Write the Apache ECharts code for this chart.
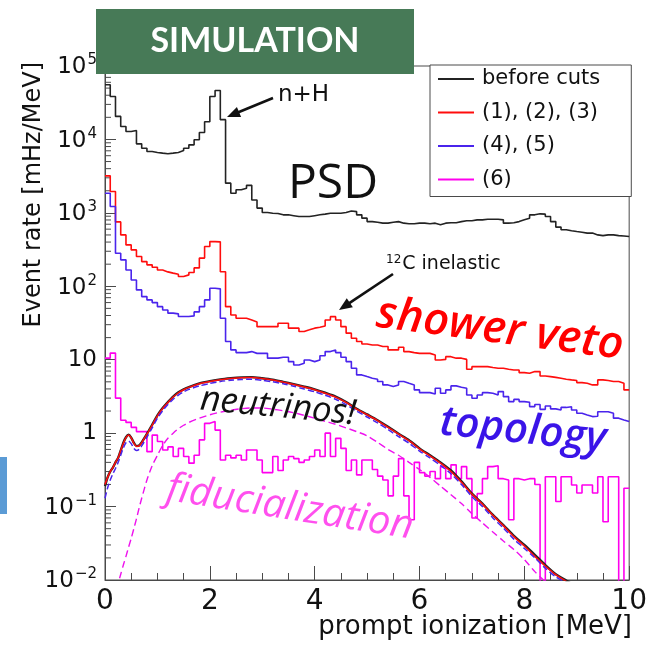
<!DOCTYPE html>
<html>
<head>
<meta charset="utf-8">
<title>Event rate vs prompt ionization</title>
<script src="https://cdn.jsdelivr.net/npm/echarts@6/dist/echarts.min.js"></script>
<style>
  html, body { margin: 0; padding: 0; background: #ffffff; }
  #chart { width: 650px; height: 646px; }
</style>
</head>
<body>
<div id="chart"></div>
<script>
// Histogram binning (MeV)
const binWidth = 0.1;
const energyMin = 0;
const energyMax = 10;
const xTickStep = 2;

// Log axis decades (exponents) and the ROOT-style minor tick factors
const yMinExp = -2;
const yMaxExp = 5;
const yMinorFactors = [2, 3, 4, 5, 6, 7, 8, 9];

const seriesNames = ['before cuts', '(1), (2), (3)', '(4), (5)', '(6)'];

// Event rate per 0.1 MeV bin [mHz/MeV]
const beforeCuts = [
  55500, 38500, 20600, 15000, 12800, 13200, 8700, 7600, 6840, 6640,
  6500, 6370, 6500, 6640, 7060, 7600, 8430, 9900, 12400, 17400,
  38500, 46300, 18600, 2540, 1850, 2060, 2170, 2370, 1500, 1160,
  1010, 990, 980, 940, 940, 915, 890, 890, 890, 915,
  940, 960, 990, 990, 990, 1010, 1060, 1040, 940, 847,
  760, 745, 724, 724, 745, 760, 724, 712, 712, 724,
  724, 712, 724, 690, 724, 735, 735, 760, 780, 780,
  803, 803, 820, 820, 820, 803, 724, 735, 760, 803,
  847, 940, 970, 960, 890, 760, 640, 590, 570, 556,
  545, 530, 530, 501, 490, 501, 501, 490, 485, 476
];

const cuts123 = [
  3190, 1950, 753, 501, 366, 313, 254, 217, 196, 182,
  167, 157, 151, 146, 136, 143, 154, 178, 242, 348,
  406, 403, 158, 52.8, 40.7, 36.7, 36.7, 34.8, 32.7, 28.2,
  28.2, 28.2, 28.2, 31.4, 31.4, 26.9, 26.9, 24.2, 25.5, 26.9,
  27.7, 28.8, 34.8, 38.6, 34.8, 28.2, 23.0, 19.6, 17.7, 16.4,
  15.9, 15.9, 15.1, 15.1, 13.6, 13.6, 14.8, 12.9, 12.5, 12.2,
  12.2, 12.2, 11.6, 9.9, 10.1, 11.0, 10.5, 10.5, 10.1, 7.4,
  8.05, 8.05, 8.05, 7.85, 7.66, 7.66, 7.4, 7.26, 7.26, 6.68,
  6.55, 6.89, 6.89, 6.01, 5.89, 5.75, 5.6, 5.43, 5.31, 5.2,
  4.88, 4.78, 4.54, 4.54, 5.31, 5.2, 5.04, 5.04, 4.78, 3.88
];

const cuts45 = [
  1850, 1220, 282, 229, 167, 122, 89.3, 72.4, 65.3, 60.0,
  52.8, 47.6, 43.1, 42.1, 38.7, 38.7, 39.5, 44.8, 52.8, 65.3,
  94.2, 92.3, 36.7, 17.7, 13.6, 12.5, 12.5, 12.9, 12.2, 12.2,
  12.2, 10.5, 10.5, 10.8, 10.8, 9.42, 8.49, 8.95, 9.93, 9.42,
  9.93, 11.3, 12.9, 13.6, 12.5, 10.8, 9.42, 7.66, 6.21, 5.89,
  5.6, 5.43, 5.04, 4.54, 4.31, 4.54, 5.04, 4.78, 4.54, 3.88,
  3.56, 3.56, 3.42, 4.09, 3.49, 3.88, 4.4, 4.22, 4.09, 3.31,
  2.99, 3.31, 3.56, 3.49, 3.31, 3.68, 3.14, 2.69, 2.88, 2.69,
  2.63, 2.30, 2.45, 2.11, 2.34, 2.14, 2.07, 2.24, 2.29, 2.07,
  1.87, 1.77, 1.68, 1.70, 1.96, 1.96, 1.87, 1.60, 1.51, 1.44
];

const cut6 = [
  10.5, 12.3, 3.0, 1.5, 1.4, 1.2, 1.05, 1.05, 0.56, 0.94,
  0.77, 0.59, 0.65, 0.48, 0.62, 0.48, 0.39, 0.50, 0.81, 1.36,
  1.44, 1.1, 0.43, 0.50, 0.46, 0.50, 0.43, 0.59, 0.59, 0.43,
  0.29, 0.29, 0.48, 0.31, 0.43, 0.48, 0.45, 0.40, 0.43, 0.48,
  0.59, 0.48, 1.0, 0.48, 0.85, 0.62, 0.31, 0.43, 0.27, 0.43,
  0.43, 0.32, 0.26, 0.23, 0.14, 0.26, 0.45, 0.14, 0.066, 0.40,
  0.29, 0.26, 0.30, 0.24, 0.35, 0.24, 0.37, 0.24, 0.35, 0.24,
  0.07, 0.15, 0.24, 0.35, 0.36, 0.24, 0.23, 0.066, 0.24, 0.23,
  0.24, 0.24, 0.20, 0, 0.255, 0.255, 0.117, 0.255, 0.255, 0.197,
  0.153, 0.197, 0.197, 0.153, 0.255, 0.062, 0.255, 0.255, 0, 0.178
];

// Simulated neutrino (IBD) prompt spectra
const nuEnergy = [
  0, 0.05, 0.1, 0.15, 0.2, 0.25, 0.3, 0.35, 0.4, 0.45,
  0.5, 0.55, 0.6, 0.65, 0.7, 0.8, 0.9, 1.0, 1.1, 1.2,
  1.3, 1.4, 1.5, 1.6, 1.8, 2.0, 2.2, 2.4, 2.6, 2.8,
  3.0, 3.2, 3.4, 3.6, 3.8, 4.0, 4.2, 4.4, 4.6, 4.8,
  5.0, 5.2, 5.4, 5.6, 5.8, 6.0, 6.2, 6.4, 6.6, 6.8,
  7.0, 7.2, 7.4, 7.6, 7.8, 8.0, 8.2, 8.4, 8.6, 8.8, 9.0
];
const nuBefore = [
  0.19, 0.25, 0.30, 0.34, 0.40, 0.46, 0.58, 0.74, 0.88, 0.95,
  0.87, 0.74, 0.67, 0.68, 0.75, 0.98, 1.30, 1.75, 2.20, 2.65,
  3.15, 3.60, 3.95, 4.25, 4.75, 5.10, 5.40, 5.60, 5.75, 5.80,
  5.60, 5.35, 5.00, 4.65, 4.30, 3.95, 3.55, 3.15, 2.65, 2.15,
  1.80, 1.50, 1.22, 0.98, 0.80, 0.62, 0.50, 0.40, 0.31, 0.22,
  0.15, 0.11, 0.077, 0.056, 0.040, 0.030, 0.022, 0.016, 0.012, 0.0098, 0.008
];
const nu123 = [
  0.20, 0.25, 0.30, 0.34, 0.40, 0.46, 0.58, 0.73, 0.87, 0.94,
  0.86, 0.73, 0.66, 0.67, 0.74, 0.97, 1.28, 1.72, 2.17, 2.62,
  3.10, 3.55, 3.90, 4.20, 4.70, 5.05, 5.35, 5.55, 5.70, 5.72,
  5.55, 5.30, 4.95, 4.60, 4.25, 3.90, 3.50, 3.10, 2.62, 2.12,
  1.78, 1.48, 1.20, 0.97, 0.79, 0.61, 0.49, 0.39, 0.30, 0.215,
  0.148, 0.108, 0.076, 0.055, 0.039, 0.029, 0.021, 0.0155, 0.0118, 0.0096, 0.008
];
const nu45 = [
  0.13, 0.18, 0.23, 0.28, 0.33, 0.40, 0.50, 0.63, 0.74, 0.78,
  0.72, 0.62, 0.58, 0.60, 0.67, 0.88, 1.18, 1.60, 2.02, 2.45,
  2.90, 3.30, 3.65, 3.95, 4.40, 4.75, 5.05, 5.25, 5.38, 5.42,
  5.25, 5.00, 4.70, 4.35, 4.00, 3.65, 3.28, 2.90, 2.45, 2.00,
  1.66, 1.38, 1.12, 0.90, 0.73, 0.57, 0.46, 0.365, 0.28, 0.20,
  0.137, 0.10, 0.070, 0.051, 0.036, 0.027, 0.020, 0.0145, 0.011, 0.0092, 0.0075
];
const nu6 = [
  0.002, 0.003, 0.004, 0.005, 0.007, 0.009, 0.012, 0.016, 0.021, 0.028,
  0.037, 0.050, 0.068, 0.095, 0.13, 0.23, 0.36, 0.50, 0.68, 0.85,
  1.00, 1.15, 1.28, 1.40, 1.60, 1.78, 1.93, 2.05, 2.15, 2.20,
  2.20, 2.12, 2.02, 1.90, 1.75, 1.60, 1.45, 1.32, 1.18, 1.05,
  0.92, 0.75, 0.60, 0.50, 0.40, 0.32, 0.25, 0.19, 0.145, 0.11,
  0.08, 0.06, 0.045, 0.034, 0.026, 0.019, 0.013, 0.0095, 0.007, 0.005, 0.004
];

// Empty bins cannot sit on a log axis: push them below the frame so the step drops to the axis
const emptyBinLevel = 1e-4;

const colors = {
  black: '#232323',
  red: '#ff0d0d',
  blue: '#4a24ec',
  magenta: '#ff00ee',
  axis: '#4a4a4a',
  text: '#111111'
};
const rootFont = 'DejaVu Sans';
const slideFont = 'Open Sans';

function histPoints(values) {
  const pts = values.map((v, i) => [+(energyMin + i * binWidth).toFixed(2), v > 0 ? v : emptyBinLevel]);
  pts.push([+(energyMin + values.length * binWidth).toFixed(2), pts[pts.length - 1][1]]);
  return pts;
}
function curvePoints(values) {
  return nuEnergy.map((e, i) => [e, values[i]]);
}

const yMinorTicks = [];
for (let e = yMinExp; e < yMaxExp; e++) {
  for (const m of yMinorFactors) yMinorTicks.push([energyMin, m * Math.pow(10, e)]);
}

function histSeries(name, values, color) {
  return {
    name: name, type: 'line', step: 'end', data: histPoints(values),
    symbol: 'none', showSymbol: false, clip: true,
    lineStyle: { color: color, width: 1.6 }, itemStyle: { color: color },
    animation: false, z: 3
  };
}
function curveSeries(name, values, color, width, dash, z) {
  return {
    name: name, type: 'line', smooth: 0.25, data: curvePoints(values),
    symbol: 'none', showSymbol: false, clip: true,
    lineStyle: { color: color, width: width, type: dash || 'solid' },
    itemStyle: { color: color }, animation: false, z: z
  };
}

// Arrow helper (annotation shapes)
function arrow(x1, y1, x2, y2, color) {
  const dx = x2 - x1, dy = y2 - y1, len = Math.hypot(dx, dy);
  const ux = dx / len, uy = dy / len, head = 13, half = 5.5;
  const bx = x2 - ux * head, by = y2 - uy * head;
  return [
    { type: 'line', z: 50, shape: { x1: x1, y1: y1, x2: bx + ux * 2, y2: by + uy * 2 },
      style: { stroke: color, lineWidth: 2.6 } },
    { type: 'polygon', z: 50, shape: { points: [[x2, y2], [bx - uy * half, by + ux * half], [bx + uy * half, by - ux * half]] },
      style: { fill: color } }
  ];
}

function deg(a) { return a * Math.PI / 180; }

const graphics = [
  // slide decoration at the left edge
  { type: 'rect', z: 100, shape: { x: 0, y: 457, width: 7, height: 57 }, style: { fill: '#5b9bd5' } },
  // banner
  { type: 'rect', z: 100, shape: { x: 96, y: 9, width: 318, height: 65 }, style: { fill: '#477a57' } },
  { type: 'text', z: 101, x: 255, y: 41, style: { text: 'SIMULATION', fill: '#ffffff',
      font: 'bold 34px Lato', align: 'center', verticalAlign: 'middle' } },
  // axis titles
  { type: 'text', z: 60, x: 34, y: 62, rotation: Math.PI / 2, style: { text: 'Event rate [mHz/MeV]',
      fill: colors.text, font: '24px "' + rootFont + '"', align: 'right', verticalAlign: 'middle' } },
  { type: 'text', z: 60, x: 632, y: 627, style: { text: 'prompt ionization [MeV]',
      fill: colors.text, font: '26px "' + rootFont + '"', align: 'right', verticalAlign: 'middle' } },
  // n+H capture peak
  { type: 'text', z: 60, x: 278, y: 95, style: { text: 'n+H', fill: colors.text,
      font: '23px "' + rootFont + '"', align: 'left', verticalAlign: 'middle' } },
  ...arrow(273, 98, 227, 117, '#111'),
  // 12C inelastic bump
  { type: 'text', z: 60, x: 386, y: 264, style: { text: '{s|12}{m|C inelastic}', align: 'left', verticalAlign: 'middle',
      rich: { s: { fontSize: 12, fontFamily: rootFont, fill: colors.text, verticalAlign: 'top', padding: [0, 1, 8, 0] },
              m: { fontSize: 19, fontFamily: rootFont, fill: colors.text, verticalAlign: 'bottom' } } } },
  ...arrow(393, 274, 339, 310, '#111'),
  // cut stage labels
  { type: 'text', z: 60, x: 333, y: 184, style: { text: 'PSD', fill: '#111',
      font: '500 48px "' + slideFont + '"', align: 'center', verticalAlign: 'middle' } },
  { type: 'text', z: 60, x: 500, y: 330, rotation: deg(-7.5), style: { text: 'shower veto', fill: '#ff0000',
      font: 'italic 600 45px "' + slideFont + '"', align: 'center', verticalAlign: 'middle' } },
  { type: 'text', z: 60, x: 523, y: 431, rotation: deg(-6), style: { text: 'topology', fill: '#3a14e8',
      font: 'italic 600 42px "' + slideFont + '"', align: 'center', verticalAlign: 'middle' } },
  { type: 'text', z: 60, x: 278, y: 407, rotation: deg(-5.4), style: { text: 'neutrinos!', fill: '#111',
      font: 'italic 500 35px "' + slideFont + '"', align: 'center', verticalAlign: 'middle' } },
  { type: 'text', z: 60, x: 290, y: 508, rotation: deg(-9), style: { text: 'fiducialization', fill: '#ff50ee',
      font: 'italic 500 40px "' + slideFont + '"', align: 'center', verticalAlign: 'middle' } }
];

const option = {
  backgroundColor: '#ffffff',
  animation: false,
  grid: { left: 105, right: 17, top: 66, bottom: 66, show: true, borderColor: colors.axis, borderWidth: 1, backgroundColor: 'transparent' },
  legend: {
    data: seriesNames, orient: 'vertical', left: 430, top: 65,
    icon: 'rect', itemWidth: 36, itemHeight: 2, itemGap: 11.5,
    padding: [3, 31, 6, 8],
    backgroundColor: '#ffffff', borderColor: colors.axis, borderWidth: 1, borderRadius: 0,
    textStyle: { fontFamily: rootFont, fontSize: 21, lineHeight: 22, color: colors.text, padding: [0, 0, 0, 3] },
    z: 20
  },
  xAxis: {
    type: 'value', min: energyMin, max: energyMax, interval: xTickStep,
    axisLine: { show: true, lineStyle: { color: colors.axis, width: 1 } },
    axisTick: { show: true, inside: true, length: 14, lineStyle: { color: colors.axis } },
    minorTick: { show: true, splitNumber: 4, length: 7, lineStyle: { color: colors.axis } },
    splitLine: { show: false },
    axisLabel: { fontFamily: rootFont, fontSize: 28, color: colors.text, margin: 8 }
  },
  yAxis: {
    type: 'log', logBase: 10, min: Math.pow(10, yMinExp), max: Math.pow(10, yMaxExp),
    axisLine: { show: true, lineStyle: { color: colors.axis, width: 1 } },
    axisTick: { show: true, inside: true, length: 11, lineStyle: { color: colors.axis } },
    splitLine: { show: false },
    axisLabel: {
      margin: 8,
      formatter: function (v) {
        const e = Math.round(Math.log10(v));
        if (e === 0) return '{b|1}';
        if (e === 1) return '{b|10}';
        return '{b|10}{s|' + (e < 0 ? '\u2212' : '') + Math.abs(e) + '}';
      },
      rich: {
        b: { fontFamily: rootFont, fontSize: 23, color: colors.text, verticalAlign: 'bottom' },
        s: { fontFamily: rootFont, fontSize: 15, color: colors.text, verticalAlign: 'top', padding: [0, 0, 11, 1] }
      }
    }
  },
  series: [
    {
      type: 'custom', name: 'y minor ticks', coordinateSystem: 'cartesian2d', silent: true,
      data: yMinorTicks, encode: { x: 0, y: 1 }, z: 1,
      renderItem: function (params, api) {
        const p = api.coord([api.value(0), api.value(1)]);
        return { type: 'line', shape: { x1: p[0], y1: p[1], x2: p[0] + 6, y2: p[1] },
                 style: { stroke: colors.axis, lineWidth: 1 } };
      }
    },
    histSeries(seriesNames[0], beforeCuts, colors.black),
    histSeries(seriesNames[1], cuts123, colors.red),
    histSeries(seriesNames[2], cuts45, colors.blue),
    histSeries(seriesNames[3], cut6, colors.magenta),
    curveSeries('neutrinos, (6)', nu6, '#ee11ee', 1.4, [7, 4], 4),
    curveSeries('neutrinos, before cuts', nuBefore, colors.black, 2.4, null, 4),
    curveSeries('neutrinos, (1), (2), (3)', nu123, colors.red, 1.5, null, 5),
    curveSeries('neutrinos, (4), (5)', nu45, colors.blue, 1.5, [6, 3], 6)
  ],
  graphic: graphics
};

const chart = echarts.init(document.getElementById('chart'), null, { renderer: 'canvas' });
chart.setOption(option);
</script>
</body>
</html>
